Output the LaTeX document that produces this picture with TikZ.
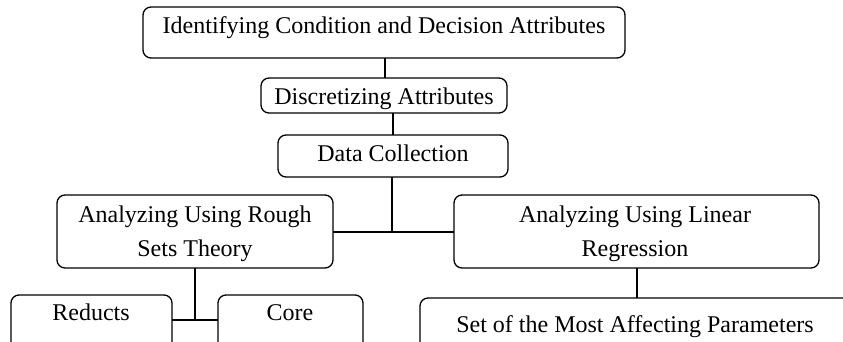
\documentclass[tikz,border=0pt]{standalone}
\usepackage{fontspec}
\setmainfont{Liberation Serif}
\begin{document}
\begin{tikzpicture}[x=1pt,y=-1pt,
  boxnode/.style={draw, rounded corners=8pt, line width=1.3pt, inner sep=0pt, outer sep=0pt},
  lbl/.style={inner sep=0pt, outer sep=0pt, font=\fontsize{24}{34}\selectfont},
  conn/.style={line width=2pt}]
\useasboundingbox (0,0) rectangle (843,341);
\clip (0,0) rectangle (843,341);
% boxes
\node[boxnode, minimum width=482pt, minimum height=51pt] (top) at (384,32.5) {};
\node[boxnode, minimum width=246pt, minimum height=35pt] (disc) at (384,95.5) {};
\node[boxnode, minimum width=230pt, minimum height=42pt] (data) at (393,156) {};
\node[boxnode, minimum width=276pt, minimum height=73pt] (rough) at (195,231.5) {};
\node[boxnode, minimum width=365pt, minimum height=73pt] (linear) at (636.5,231.5) {};
\node[boxnode, minimum width=161pt, minimum height=70pt] (reducts) at (91.5,330) {};
\node[boxnode, minimum width=145pt, minimum height=70pt] (core) at (290.5,330) {};
\node[boxnode, minimum width=450pt, minimum height=70pt] (set) at (645,333) {};
% labels
\node[lbl, anchor=base] (ttop) at (384,33) {Identifying Condition and Decision Attributes};
\node[lbl, anchor=base] (tdisc) at (384,104) {Discretizing Attributes};
\node[lbl, anchor=base] (tdata) at (393,161) {Data Collection};
\node[lbl, anchor=base, align=center] (trough) at (195,256) {Analyzing Using Rough\\Sets Theory};
\node[lbl, anchor=base, align=center] (tlinear) at (635,256) {Analyzing Using Linear\\Regression};
\node[lbl, anchor=base] (treducts) at (91,320) {Reducts};
\node[lbl, anchor=base] (tcore) at (290,320) {Core};
\node[lbl, anchor=base] (tset) at (635,332) {Set of the Most Affecting Parameters};
% connectors
\coordinate (j1) at (392,232);
\coordinate (j2) at (195,320);
\draw[conn] ([xshift=1pt]top.south) -- ([xshift=1pt]disc.north);
\draw[conn] (data.north |- disc.south) -- (data.north);
\draw[conn] ([xshift=-1pt]data.south) -- (j1);
\draw[conn] (rough.east |- j1) -- (linear.west |- j1);
\draw[conn] (rough.south) -- (j2);
\draw[conn] (reducts.east |- j2) -- (core.west |- j2);
\draw[conn] (linear.south) -- (linear.south |- set.north);
\end{tikzpicture}
\end{document}
